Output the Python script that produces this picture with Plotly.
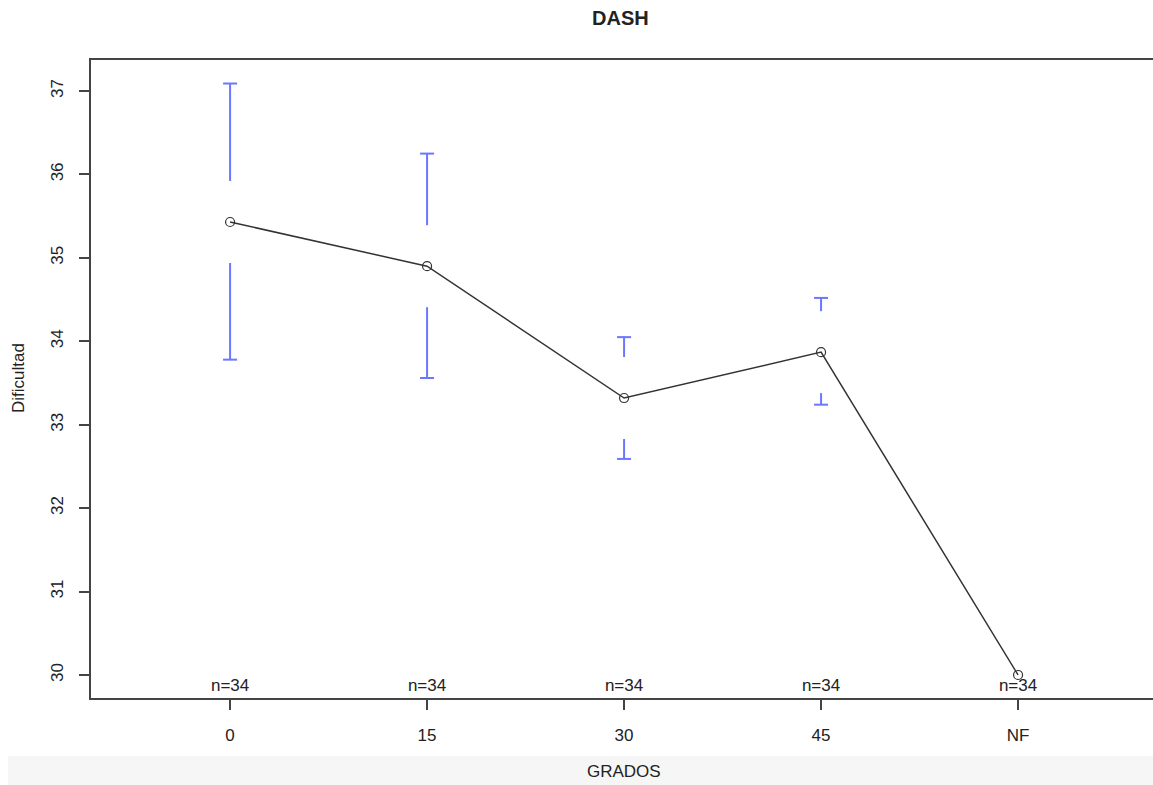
import plotly.graph_objects as go

# ---- data ----
categories = ["0", "15", "30", "45", "NF"]
means = [35.43, 34.90, 33.32, 33.87, 30.00]
upper = [37.09, 36.25, 34.05, 34.52, None]
lower = [33.78, 33.56, 32.59, 33.24, None]
n_labels = ["n=34", "n=34", "n=34", "n=34", "n=34"]

# ---- geometry ----
W, H = 1153, 785
ml, mr, mt, mb = 91, 0, 60, 87
plot_w = W - ml - mr
plot_h = H - mt - mb
x_range = [-0.706, 4.685]
y_range = [29.724, 37.372]
y_per_px = (y_range[1] - y_range[0]) / plot_h
x_per_px = (x_range[1] - x_range[0]) / plot_w
gap = 41 * y_per_px
cap = 7 * x_per_px

xs = list(range(len(categories)))

# error bars with gap around the mean
ex, ey = [], []
for i, (m, u, l) in enumerate(zip(means, upper, lower)):
    if u is None:
        continue
    if u > m + gap:
        ex += [i, i, None, i - cap, i + cap, None]
        ey += [m + gap, u, None, u, u, None]
    if l < m - gap:
        ex += [i, i, None, i - cap, i + cap, None]
        ey += [m - gap, l, None, l, l, None]

fig = go.Figure()
fig.add_trace(go.Scatter(x=ex, y=ey, mode="lines",
                         line=dict(color="rgb(105,120,255)", width=2),
                         hoverinfo="skip", showlegend=False))
fig.add_trace(go.Scatter(x=xs, y=means, mode="lines+markers",
                         line=dict(color="#333333", width=1.5),
                         marker=dict(symbol="circle-open", size=9,
                                     color="#333333", line=dict(width=1.2)),
                         showlegend=False))
fig.add_trace(go.Scatter(x=xs, y=[y_range[0] + 11 * y_per_px] * len(xs),
                         mode="text", text=n_labels,
                         textfont=dict(size=17, color="#222222"),
                         textposition="middle center",
                         hoverinfo="skip", showlegend=False))

font_family = "Liberation Sans, Arial, sans-serif"

def px_to_paper_x(px):
    return (px - ml) / plot_w

def px_to_paper_y(py):
    return (H - mb - py) / plot_h

fig.add_shape(type="rect", xref="paper", yref="paper",
              x0=px_to_paper_x(8), x1=px_to_paper_x(W),
              y0=px_to_paper_y(H), y1=px_to_paper_y(756),
              fillcolor="#f6f6f6", line=dict(width=0), layer="below")

fig.add_annotation(text="<b>DASH</b>", xref="paper", yref="paper",
                   x=px_to_paper_x(620), y=px_to_paper_y(18),
                   showarrow=False, font=dict(size=20, color="#222222"),
                   xanchor="center", yanchor="middle")
fig.add_annotation(text="GRADOS", xref="paper", yref="paper",
                   x=px_to_paper_x(624), y=px_to_paper_y(771),
                   showarrow=False, font=dict(size=17, color="#222222"),
                   xanchor="center", yanchor="middle")
fig.add_annotation(text="Dificultad", xref="paper", yref="paper",
                   x=px_to_paper_x(18), y=px_to_paper_y(378),
                   showarrow=False, font=dict(size=17, color="#222222"),
                   textangle=-90, xanchor="center", yanchor="middle")

fig.update_layout(
    width=W, height=H,
    margin=dict(l=ml, r=mr, t=mt, b=mb),
    paper_bgcolor="white", plot_bgcolor="white",
    font=dict(family=font_family, size=17, color="#222222"),
    showlegend=False,
)
fig.update_xaxes(range=x_range, tickvals=xs, ticktext=categories,
                 showgrid=False, zeroline=False,
                 showline=True, linecolor="#444444", linewidth=1.5,
                 mirror=True, ticks="outside", ticklen=10, tickwidth=1.5,
                 tickcolor="#444444", ticklabelstandoff=11,
                 tickfont=dict(size=17, color="#222222"))
fig.update_yaxes(range=y_range, tickvals=[30, 31, 32, 33, 34, 35, 36, 37],
                 showgrid=False, zeroline=False,
                 showline=True, linecolor="#444444", linewidth=1.5,
                 ticks="outside", ticklen=10, tickwidth=1.5,
                 tickcolor="#444444", tickangle=-90, ticklabelstandoff=9,
                 tickfont=dict(size=17, color="#222222"))

fig.write_html("out.html")
